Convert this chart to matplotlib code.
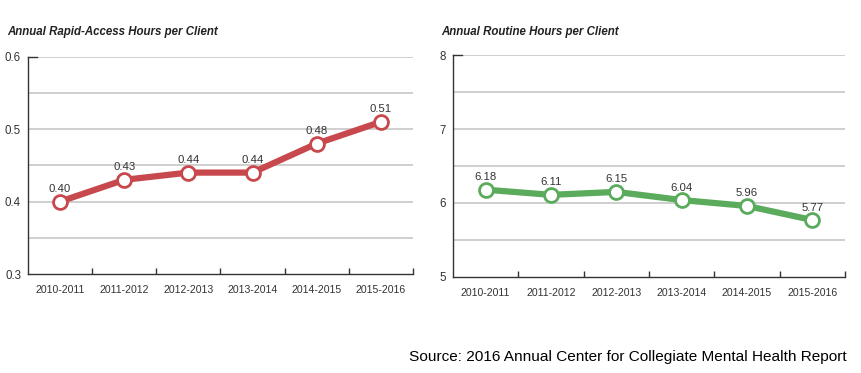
import numpy as np
import matplotlib.pyplot as plt
from matplotlib.ticker import FixedLocator

years = ['2010-2011', '2011-2012', '2012-2013', '2013-2014', '2014-2015', '2015-2016']
rapid_hours = [0.40, 0.43, 0.44, 0.44, 0.48, 0.51]
routine_hours = [6.18, 6.11, 6.15, 6.04, 5.96, 5.77]

plt.rcParams['font.family'] = ['Liberation Sans', 'DejaVu Sans']

fig = plt.figure(figsize=(8.62, 3.73), dpi=100)


def draw_panel(rect, values, color, title, ylim, yticks, minor_grid, title_x):
    ax = fig.add_axes(rect)
    x = np.arange(len(values))
    for y in list(yticks[1:]) + list(minor_grid):
        ax.axhline(y, color='#cfcfcf', lw=1.4, zorder=1)
    ax.plot(x, values, color=color, lw=4.5, zorder=3, solid_capstyle='round')
    ax.plot(x, values, 'o', ms=10, mfc='white', mec=color, mew=2.0, zorder=4)
    for xi, v in zip(x, values):
        ax.annotate('%.2f' % v, (xi, v), xytext=(0, 9), textcoords='offset points',
                    ha='center', va='center', fontsize=8.2, color='#333333')
    ax.set_xlim(-0.5, len(values) - 0.5)
    ax.set_ylim(*ylim)
    ax.set_yticks(yticks)
    ax.set_yticklabels([('%g' % t) if t >= 1 else '%.1f' % t for t in yticks])
    ax.set_xticks(x)
    ax.set_xticklabels(years)
    ax.xaxis.set_minor_locator(FixedLocator(np.arange(0.5, len(values), 1.0)))
    ax.tick_params(axis='x', which='major', length=0, pad=8, labelsize=7.6, labelcolor='#333333')
    ax.tick_params(axis='x', which='minor', direction='in', length=4, width=1, color='#333333')
    ax.tick_params(axis='y', which='major', direction='in', length=0, pad=5, labelsize=8.3, labelcolor='#333333')
    for s in ['top', 'right']:
        ax.spines[s].set_visible(False)
    for s in ['left', 'bottom']:
        ax.spines[s].set_color('#333333')
        ax.spines[s].set_linewidth(1.0)
    ax.plot([-0.5, -0.36], [ylim[1], ylim[1]], color='#333333', lw=1.0, zorder=2, clip_on=False)
    fig.text(title_x, 0.913, title, fontsize=8.3, fontweight='bold', fontstyle='italic',
             color='#222222', ha='left', va='center')
    return ax


draw_panel([0.0325, 0.2654, 0.4465, 0.5826], rapid_hours, '#c8494d',
           'Annual Rapid-Access Hours per Client', (0.3, 0.6), [0.3, 0.4, 0.5, 0.6],
           [0.35, 0.45, 0.55], 0.008)
draw_panel([0.5255, 0.2574, 0.4548, 0.5951], routine_hours, '#5aab5c',
           'Annual Routine Hours per Client', (5, 8), [5, 6, 7, 8],
           [5.5, 6.5, 7.5], 0.512)

fig.text(0.9826, 0.043, 'Source: 2016 Annual Center for Collegiate Mental Health Report',
         fontsize=11.1, ha='right', va='center', color='black')

fig.savefig('out.png', dpi=100)
